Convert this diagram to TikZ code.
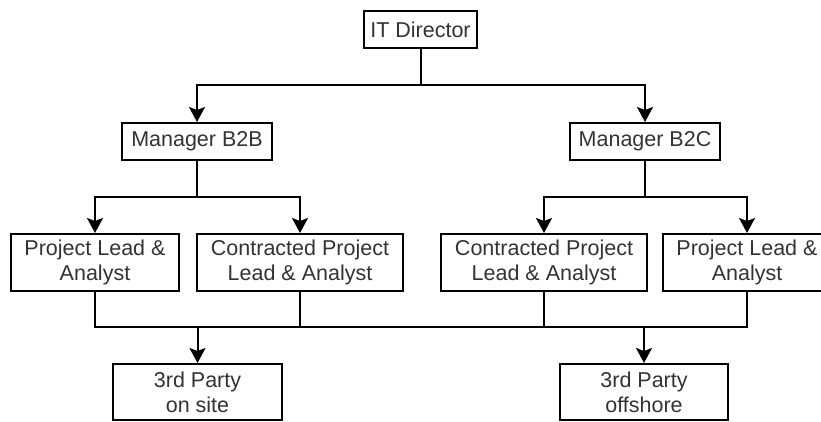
\documentclass[tikz,border=0pt]{standalone}
\usepackage{fontspec}
\setmainfont{Liberation Sans}
\usetikzlibrary{arrows.meta}
\definecolor{ink}{HTML}{333333}
\tikzset{
  box/.style={draw=black, line width=2pt, fill=white, align=center,
    inner sep=0pt, text=ink, font=\fontsize{21.5}{25}\selectfont},
  link/.style={draw=black, line width=2pt},
  arr/.style={link, -{Stealth[length=15pt, width=16pt, inset=3pt]}}
}
\begin{document}
\begin{tikzpicture}[x=1pt, y=-1pt]
  \useasboundingbox (0,0) rectangle (821,421);
  \clip (0,0) rectangle (821,421);

  % boxes
  \node[box, minimum width=113pt, minimum height=37pt] (it)  at (420.5,29.5) {IT Director};
  \node[box, minimum width=150pt, minimum height=37pt] (b2b) at (197,141.5) {Manager B2B};
  \node[box, minimum width=150pt, minimum height=37pt] (b2c) at (645,141.5) {Manager B2C};
  \node[box, minimum width=168pt, minimum height=57pt] (pl1) at (95,262.5) {Project Lead \&\\Analyst};
  \node[box, minimum width=206pt, minimum height=57pt] (cp1) at (300,262.5) {Contracted Project\\Lead \& Analyst};
  \node[box, minimum width=206pt, minimum height=57pt] (cp2) at (544,262.5) {Contracted Project\\Lead \& Analyst};
  \node[box, minimum width=168pt, minimum height=57pt] (pl2) at (747,262.5) {Project Lead \&\\Analyst};
  \node[box, minimum width=169pt, minimum height=56pt] (tp1) at (197.5,392) {3rd Party\\on site};
  \node[box, minimum width=168pt, minimum height=56pt] (tp2) at (644,392) {3rd Party\\offshore};

  % bus levels
  \coordinate (busA) at (0,85);
  \coordinate (busB) at (0,197);
  \coordinate (busC) at (0,327);

  % director to managers
  \draw[link] (it.south) -- (it.south |- busA);
  \draw[arr] (it.south |- busA) -| (b2b.north);
  \draw[arr] (it.south |- busA) -| (b2c.north);

  % managers to leads
  \draw[link] (b2b.south) -- (b2b.south |- busB);
  \draw[arr] (b2b.south |- busB) -| (pl1.north);
  \draw[arr] (b2b.south |- busB) -| (cp1.north);
  \draw[link] (b2c.south) -- (b2c.south |- busB);
  \draw[arr] (b2c.south |- busB) -| (cp2.north);
  \draw[arr] (b2c.south |- busB) -| (pl2.north);

  % leads to third parties
  \draw[link] (pl1.south) -- (pl1.south |- busC) -- (pl2.south |- busC) -- (pl2.south);
  \draw[link] (cp1.south) -- (cp1.south |- busC);
  \draw[link] (cp2.south) -- (cp2.south |- busC);
  \draw[arr] (tp1.north |- busC) -- (tp1.north);
  \draw[arr] (tp2.north |- busC) -- (tp2.north);
\end{tikzpicture}
\end{document}
